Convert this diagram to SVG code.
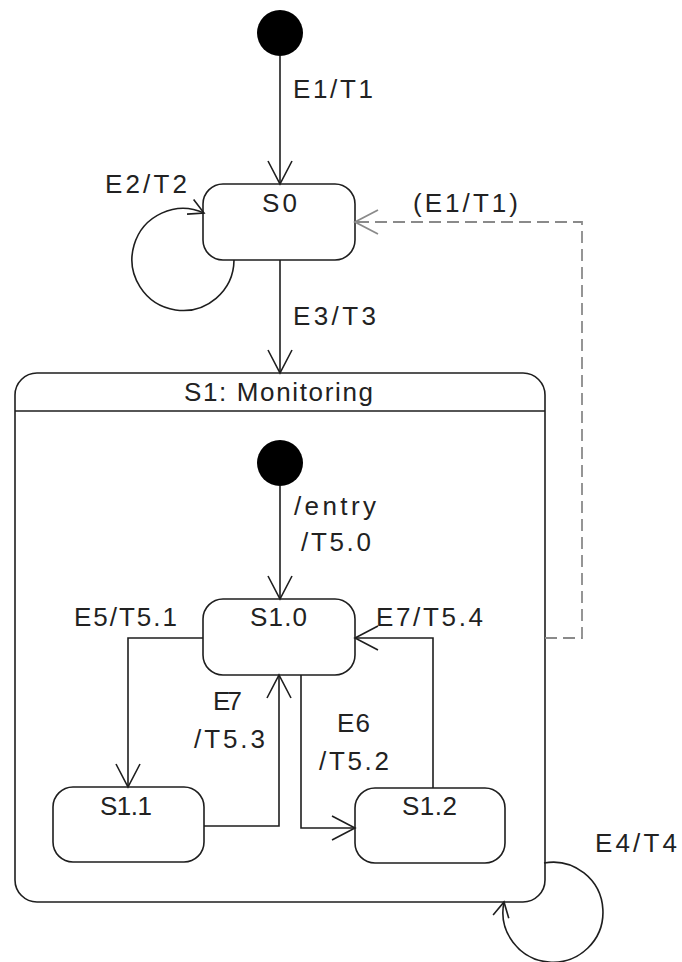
<svg xmlns="http://www.w3.org/2000/svg" width="682" height="962" viewBox="0 0 682 962">
<style>
.st{fill:#fff;stroke:#1e1e1e;stroke-width:1.6}
.ln{fill:none;stroke:#1e1e1e;stroke-width:1.6}
.dash{fill:none;stroke:#8a8a8a;stroke-width:1.8;stroke-dasharray:12 6}
.init{fill:#000}
text{font-family:"Liberation Sans",Arial,sans-serif;font-size:26px;fill:#222}
</style>
<defs>
<marker id="arr" markerUnits="userSpaceOnUse" viewBox="-30 -15 32 30" markerWidth="32" markerHeight="30" refX="0" refY="0" orient="auto" overflow="visible">
<path d="M-23,-12 L0,0 L-23,12" fill="none" stroke="#1e1e1e" stroke-width="1.6"/>
</marker>
<marker id="arrs" markerUnits="userSpaceOnUse" viewBox="-20 -10 22 20" markerWidth="22" markerHeight="20" refX="0" refY="0" orient="auto" overflow="visible">
<path d="M-15,-8 L0,0 L-15,8" fill="none" stroke="#1e1e1e" stroke-width="1.6"/>
</marker>
<marker id="arrd" markerUnits="userSpaceOnUse" viewBox="-30 -15 32 30" markerWidth="32" markerHeight="30" refX="0" refY="0" orient="auto" overflow="visible">
<path d="M-23,-12 L0,0 L-23,12" fill="none" stroke="#8a8a8a" stroke-width="1.8"/>
</marker>
</defs>

<g id="S1">
<rect class="st" x="15" y="373" width="530" height="529" rx="22"/>
<line class="ln" x1="15" y1="411" x2="545" y2="411"/>
<text x="184" y="401" textLength="189">S1: Monitoring</text>
</g>

<g id="init0"><circle class="init" cx="280" cy="33" r="23"/></g>
<g id="S0">
<rect class="st" x="203" y="184" width="152" height="76" rx="20"/>
<text x="262" y="212" textLength="35">S0</text>
</g>
<g id="init1"><circle class="init" cx="280" cy="463" r="23"/></g>
<g id="S1.0">
<rect class="st" x="203" y="599" width="152" height="76" rx="20"/>
<text x="250" y="626" textLength="57">S1.0</text>
</g>
<g id="S1.1">
<rect class="st" x="53" y="787" width="151" height="75" rx="20"/>
<text x="100" y="815" textLength="52">S1.1</text>
</g>
<g id="S1.2">
<rect class="st" x="355" y="788" width="150" height="75" rx="20"/>
<text x="402" y="815" textLength="55">S1.2</text>
</g>

<g id="connectors">
<path class="ln" d="M280,56 V184" marker-end="url(#arr)"/>
<path class="ln" d="M280,260 V373" marker-end="url(#arr)"/>
<path class="ln" d="M234,260 A51,51 0 1 1 204,213" marker-end="url(#arrs)"/>
<path class="dash" d="M545,638 H582 V222 H355" marker-end="url(#arrd)"/>
<path class="ln" d="M280,486 V599" marker-end="url(#arr)"/>
<path class="ln" d="M203,638 H128 V787" marker-end="url(#arr)"/>
<path class="ln" d="M204,826 H279 V675" marker-end="url(#arr)"/>
<path class="ln" d="M301,675 V828 H355" marker-end="url(#arr)"/>
<path class="ln" d="M433,788 V638 H355" marker-end="url(#arr)"/>
<path class="ln" d="M544,863 A50,50 0 1 1 504,902" marker-end="url(#arrs)"/>
</g>

<g id="labels">
<text x="293" y="98" textLength="80">E1/T1</text>
<text x="105" y="193" textLength="82">E2/T2</text>
<text x="413" y="212" textLength="105">(E1/T1)</text>
<text x="293" y="325" textLength="83">E3/T3</text>
<text x="294" y="515" textLength="82">/entry</text>
<text x="301" y="551" textLength="70">/T5.0</text>
<text x="74" y="626" textLength="103">E5/T5.1</text>
<text x="376" y="626" textLength="107">E7/T5.4</text>
<text x="213" y="710" textLength="29">E7</text>
<text x="194" y="748" textLength="71">/T5.3</text>
<text x="337" y="732" textLength="33">E6</text>
<text x="319" y="770" textLength="70">/T5.2</text>
<text x="595" y="852" textLength="82">E4/T4</text>
</g>
</svg>
